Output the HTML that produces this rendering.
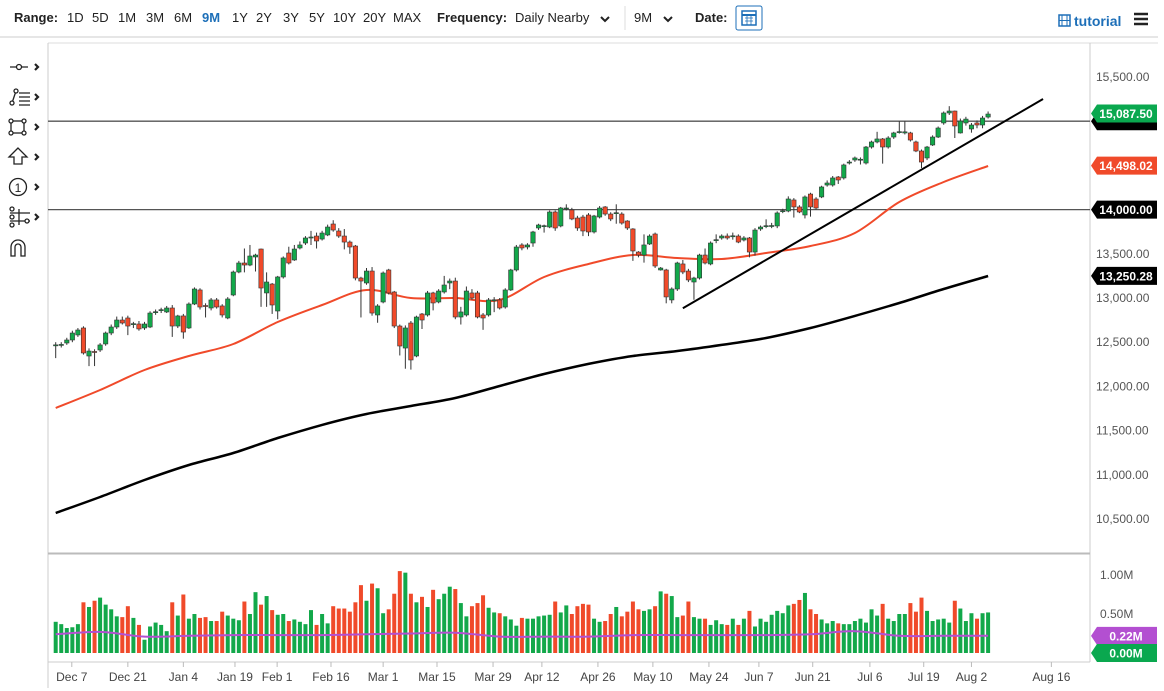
<!DOCTYPE html>
<html><head><meta charset="utf-8"><style>
body{margin:0;background:#fff;font-family:"Liberation Sans",sans-serif;}
svg{display:block}
</style></head><body>
<svg id="chart" width="1164" height="691" viewBox="0 0 1164 691" xmlns="http://www.w3.org/2000/svg" font-family="Liberation Sans, sans-serif">
<rect x="0" y="0" width="1164" height="691" fill="#fff"/>
<g font-size="13" fill="#222">
<text x="14" y="22" font-weight="bold">Range:</text>
<text x="67" y="22">1D</text>
<text x="92" y="22">5D</text>
<text x="118" y="22">1M</text>
<text x="146" y="22">3M</text>
<text x="174" y="22">6M</text>
<text x="202" y="22" font-weight="bold" fill="#1d6fb8">9M</text>
<text x="232" y="22">1Y</text>
<text x="256" y="22">2Y</text>
<text x="283" y="22">3Y</text>
<text x="309" y="22">5Y</text>
<text x="333" y="22">10Y</text>
<text x="363" y="22">20Y</text>
<text x="393" y="22">MAX</text>
<text x="437" y="22" font-weight="bold">Frequency:</text>
<text x="515" y="22">Daily Nearby</text>
<path d="M601 17 l4 4 l4 -4" stroke="#222" stroke-width="2" fill="none"/>
<line x1="625" y1="6" x2="625" y2="30" stroke="#ddd"/>
<text x="634" y="22">9M</text>
<path d="M664 17 l4 4 l4 -4" stroke="#222" stroke-width="2" fill="none"/>
<text x="695" y="22" font-weight="bold">Date:</text>
<g>
<rect x="736" y="6" width="26" height="24" fill="#fff" stroke="#1d6fb8" rx="2"/>
<rect x="742" y="11" width="14" height="14" fill="none" stroke="#1d6fb8" stroke-width="1.5"/>
<line x1="742" y1="15" x2="756" y2="15" stroke="#1d6fb8" stroke-width="2"/>
<path d="M745 18h8M745 21h8M747 16v9M751 16v9" stroke="#1d6fb8" stroke-width="0.8"/>
</g>
<g>
<rect x="1059" y="15" width="11" height="11" fill="none" stroke="#1d6fb8" stroke-width="1.5"/>
<path d="M1062 15v11M1067 15v11M1059 20.5h11" stroke="#1d6fb8"/>
<text x="1074" y="26" font-weight="bold" fill="#1d6fb8" font-size="14">tutorial</text>
</g>
<path d="M1134 14h14M1134 19h14M1134 24h14" stroke="#222" stroke-width="2.5"/>
</g>
<line x1="0" y1="37" x2="1158" y2="37" stroke="#ddd" stroke-width="1.5"/>
<line x1="48" y1="43" x2="1158" y2="43" stroke="#ddd"/>
<line x1="48" y1="43" x2="48" y2="688" stroke="#ccc"/>
<line x1="1090" y1="43" x2="1090" y2="662" stroke="#ccc"/>
<line x1="48" y1="553.5" x2="1090" y2="553.5" stroke="#bbb" stroke-width="2"/>
<line x1="48" y1="662" x2="1090" y2="662" stroke="#ccc"/>
<g stroke="#222" fill="none" stroke-width="1.3">
<g><path d="M10 67h18"/><circle cx="19" cy="67" r="2.5" fill="#fff"/></g>
<g><path d="M12 103l4-12M19 93h11M19 97h11M19 101h11M19 105h11"/><circle cx="12" cy="103" r="2" fill="#fff"/><circle cx="16" cy="91" r="2" fill="#fff"/></g>
<g><rect x="11" y="121" width="13" height="12"/><circle cx="11" cy="121" r="2" fill="#fff"/><circle cx="24" cy="121" r="2" fill="#fff"/><circle cx="11" cy="133" r="2" fill="#fff"/><circle cx="24" cy="133" r="2" fill="#fff"/></g>
<path d="M18 148l-9 9h5v7h8v-7h5z"/>
<g><circle cx="18" cy="187" r="8.5"/><text x="18" y="192" font-size="12" fill="#222" stroke="none" text-anchor="middle">1</text></g>
<g><path d="M10 213h20M10 221h20M19 209v16"/><circle cx="12" cy="209" r="2" fill="#fff"/><circle cx="12" cy="217" r="2" fill="#fff"/><circle cx="12" cy="225" r="2" fill="#fff"/><circle cx="27" cy="221" r="2" fill="#fff"/></g>
<path d="M11 256v-9a7 7 0 0 1 14 0v9h-4v-9a3 3 0 0 0 -6 0v9z"/>
<g stroke-width="2.2"><path d="M35 64l3 3l-3 3M35 94l3 3l-3 3M35 124l3 3l-3 3M35 154l3 3l-3 3M35 184l3 3l-3 3M35 214l3 3l-3 3"/></g>
</g>
<g id="grid"></g>
<g id="marks"></g>
<g id="axes"></g>
</svg>
<script>
const opens=[12460,12465,12491,12525,12582,12661,12344,12395,12412,12480,12604,12672,12751,12774,12700,12706,12661,12672,12838,12860,12842,12887,12683,12797,12661,12932,13091,12915,12887,12978,12910,12774,13034,13294,13396,13373,13464,13554,13057,13158,12853,13238,13509,13430,13566,13622,13685,13701,13667,13713,13837,13758,13701,13633,13588,13226,13170,13305,12808,12955,13317,13068,12683,12434,12717,12344,12819,12808,13057,12955,13068,13170,13192,12785,12808,13057,13057,12808,12808,12975,12978,12898,13091,13317,13600,13577,13622,13792,13812,13803,13973,13815,14007,13996,13905,13916,13939,13747,13916,14030,13950,13960,13950,13871,13781,13520,13486,13611,13724,13317,13317,12978,13102,13385,13305,13181,13226,13486,13385,13650,13679,13701,13698,13701,13656,13679,13520,13781,13812,13815,13815,13980,13984,14109,14030,13939,14176,14120,14143,14278,14278,14369,14358,14527,14561,14565,14527,14708,14765,14799,14708,14821,14875,14867,14867,14765,14663,14584,14731,14821,14980,15093,15115,14867,14980,14912,14980,14957,15047];
const closes=[12470,12475,12525,12604,12638,12378,12400,12385,12469,12604,12672,12751,12717,12683,12710,12650,12706,12830,12845,12868,12887,12683,12797,12615,12932,13102,12898,12905,12978,12898,12808,12989,13294,13396,13373,13475,13486,13113,13181,12921,13238,13453,13396,13554,13600,13679,13690,13645,13735,13803,13769,13701,13633,13577,13226,13192,13305,12830,12910,13283,13057,12683,12457,12661,12299,12785,12751,13057,12944,13079,13147,13192,12785,12842,13079,13000,12785,12774,12978,12980,12887,13091,13317,13577,13566,13600,13747,13826,13818,13973,13792,14018,14018,13894,13792,13758,13747,13928,14018,13950,13894,13965,13848,13792,13532,13486,13600,13701,13362,13339,13012,13102,13396,13294,13204,13226,13486,13396,13622,13660,13701,13679,13704,13633,13679,13520,13769,13803,13818,13820,13962,13988,14120,14030,13973,14143,14030,14018,14256,14301,14358,14335,14505,14538,14584,14570,14708,14765,14799,14708,14810,14867,14882,14880,14787,14663,14538,14708,14821,14923,15093,15115,14946,15002,15024,14957,14957,15036,15081];
const highs=[12500,12500,12550,12630,12660,12680,12430,12420,12490,12620,12700,12790,12790,12800,12730,12740,12730,12850,12870,12890,12910,12920,12810,12820,12950,13120,13110,12940,13000,13000,12930,13010,13310,13420,13560,13600,13500,13560,13290,13170,13250,13470,13580,13600,13640,13700,13760,13740,13760,13830,13880,13790,13780,13650,13600,13240,13340,13350,12930,13300,13330,13080,12700,12690,12740,12800,12830,13080,13070,13100,13250,13220,13230,12900,13130,13100,13080,12830,13000,13010,13000,13110,13330,13600,13620,13620,13760,13840,13830,13990,13990,14030,14060,14020,13930,13940,13960,13940,14040,14040,13970,14060,13970,13880,13790,13530,13720,13720,13740,13350,13330,13120,13410,13430,13330,13240,13500,13560,13640,13720,13720,13730,13740,13720,13700,13690,13790,13820,13890,13850,13980,14010,14150,14130,14050,14160,14190,14140,14270,14330,14380,14380,14520,14560,14600,14590,14720,14780,14880,14810,14830,14880,15000,15000,14880,14780,14680,14720,14840,14940,15110,15170,15120,15030,15050,14980,15010,15060,15110];
const lows=[12320,12440,12470,12500,12560,12360,12230,12230,12390,12460,12580,12650,12700,12580,12660,12630,12640,12660,12810,12830,12830,12560,12660,12540,12650,12920,12870,12780,12860,12880,12780,12760,13020,13280,13290,13360,13300,12900,12900,12820,12760,13220,13380,13420,13550,13600,13600,13560,13650,13700,13750,13680,13550,13500,13200,12780,13150,12800,12720,12940,13040,12660,12350,12200,12190,12330,12650,12790,12860,12940,13050,13100,12760,12700,12790,12980,12770,12640,12790,12840,12870,12880,13080,13300,13540,13550,13580,13770,13740,13790,13760,13800,13990,13880,13760,13700,13700,13730,13900,13930,13870,13840,13830,13770,13420,13460,13400,13600,13340,13310,12940,12940,13080,13270,13180,12980,13210,13380,13370,13620,13660,13660,13660,13620,13640,13460,13480,13760,13790,13790,13790,13960,13970,13910,13960,13900,13920,14000,14130,14260,14260,14290,14340,14510,14540,14510,14510,14690,14750,14520,14690,14800,14860,14850,14770,14650,14470,14560,14720,14810,14960,15070,14810,14860,14950,14870,14920,14920,15030];
const volumes=[.40,.37,.32,.33,.37,.65,.59,.67,.71,.62,.56,.47,.46,.60,.45,.36,.17,.34,.39,.36,.28,.65,.48,.75,.44,.50,.45,.46,.41,.41,.53,.48,.44,.42,.66,.50,.78,.62,.73,.55,.49,.50,.41,.43,.40,.37,.55,.36,.50,.38,.60,.57,.57,.53,.65,.87,.67,.89,.83,.51,.56,.76,1.05,1.03,.76,.65,.72,.59,.81,.69,.76,.85,.82,.64,.47,.60,.64,.74,.58,.52,.51,.47,.43,.35,.45,.44,.44,.47,.48,.49,.66,.52,.61,.50,.60,.63,.62,.44,.40,.41,.50,.59,.47,.53,.66,.56,.54,.56,.60,.79,.76,.73,.46,.48,.66,.46,.44,.44,.36,.42,.37,.36,.44,.36,.44,.54,.34,.44,.40,.49,.54,.51,.61,.63,.68,.77,.56,.50,.43,.38,.41,.38,.37,.37,.41,.44,.39,.56,.48,.63,.44,.41,.50,.50,.64,.53,.71,.54,.41,.43,.44,.39,.67,.57,.41,.51,.44,.51,.52];
const maStep=8;
const ma50=[11756,11959,12185,12344,12480,12729,12921,13091,13000,13000,12978,13238,13385,13486,13453,13441,13509,13588,13735,14086,14312,14493];
const ma200=[10568,10749,10941,11111,11247,11416,11564,11688,11778,11869,12005,12140,12254,12344,12400,12469,12548,12661,12797,12944,13102,13249];
const volMa=[.24,.27,.21,.22,.23,.23,.23,.24,.25,.26,.21,.21,.21,.23,.23,.23,.23,.24,.28,.22,.22,.22];
const priceTicks=[15500,13500,13000,12500,12000,11500,11000,10500];
const volTicks=[1.0,0.5];
const dateLabels=["Dec 7","Dec 21","Jan 4","Jan 19","Feb 1","Feb 16","Mar 1","Mar 15","Mar 29","Apr 12","Apr 26","May 10","May 24","Jun 7","Jun 21","Jul 6","Jul 19","Aug 2","Aug 16"];
const dateIdx=[2.9,13,23,32.3,39.9,49.6,59,68.7,78.8,87.6,97.7,107.6,117.7,126.7,136.4,146.7,156.4,165,179.4];
const hLevels=[15000,14000];
const trend=[[113,12884],[177.9,15251]];
const tags=[{v:15000,t:"",c:"#000"},{v:15087.5,t:"15,087.50",c:"#0aa84f"},{v:14498.02,t:"14,498.02",c:"#f04a2a"},{v:14000,t:"14,000.00",c:"#000"},{v:13250.28,t:"13,250.28",c:"#000"}];
const volTags=[{v:0.22,t:"0.22M",c:"#b34fd1"},{v:0,t:"0.00M",c:"#0aa84f"}];

const NS="http://www.w3.org/2000/svg";
function X(i){return 55.7+i*5.55;}
function Y(p){return (16371-p)/11.312;}
function VY(v){return 653-v*78;}
function mk(tag,attrs,parent){const e=document.createElementNS(NS,tag);for(const k in attrs)e.setAttribute(k,attrs[k]);parent.appendChild(e);return e;}
const grid=document.getElementById('grid'),marks=document.getElementById('marks'),axes=document.getElementById('axes');

hLevels.forEach(v=>{const l=mk('line',{x1:48,x2:1090,y1:Y(v),y2:Y(v),stroke:'#555','stroke-width':1.3},grid);

});

for(let i=0;i<volumes.length;i++){
 const up=i<closes.length?closes[i]>=opens[i]:true;
 const r=mk('rect',{x:X(i)-2,y:VY(volumes[i]),width:4,height:volumes[i]*78,fill:up?'#12a84a':'#f04a2a'},marks);
 
 
}
function line(arr,fx,fy,attrs,name){
 const pts=arr.map((v,k)=>[fx(k),fy(v)]);
 let d='M'+pts[0][0].toFixed(1)+' '+pts[0][1].toFixed(1);
 for(let k=0;k<pts.length-1;k++){
  const p0=pts[Math.max(0,k-1)],p1=pts[k],p2=pts[k+1],p3=pts[Math.min(pts.length-1,k+2)];
  const c1=[p1[0]+(p2[0]-p0[0])/6,p1[1]+(p2[1]-p0[1])/6],c2=[p2[0]-(p3[0]-p1[0])/6,p2[1]-(p3[1]-p1[1])/6];
  d+=`C${c1[0].toFixed(1)} ${c1[1].toFixed(1)} ${c2[0].toFixed(1)} ${c2[1].toFixed(1)} ${p2[0].toFixed(1)} ${p2[1].toFixed(1)}`;
 }
 const p=mk('path',Object.assign({d:d,fill:'none','stroke-linejoin':'round'},attrs),marks);
 
 return p;}
line(volMa,k=>X(k*maStep),VY,{stroke:'#b34fd1','stroke-width':2},'volume-moving-average');
line(ma200,k=>X(k*maStep),Y,{stroke:'#000','stroke-width':2.5},'ma-200-line');
line(ma50,k=>X(k*maStep),Y,{stroke:'#f04a2a','stroke-width':2},'ma-50-line');

for(let i=0;i<closes.length;i++){
 const up=closes[i]>=opens[i];const x=X(i);
 const w=mk('line',{x1:x,x2:x,y1:Y(highs[i]),y2:Y(lows[i]),stroke:'#333','stroke-width':1},marks);
 
 
 const t=Y(Math.max(opens[i],closes[i])),b=Y(Math.min(opens[i],closes[i]));
 const r=mk('rect',{x:x-2.2,y:t,width:4.4,height:Math.max(1,b-t),fill:up?'#12a84a':'#f04a2a',stroke:'#333','stroke-width':0.6},marks);
 
 
}
const tl=mk('line',{x1:X(trend[0][0]),y1:Y(trend[0][1]),x2:X(trend[1][0]),y2:Y(trend[1][1]),stroke:'#000','stroke-width':2},marks);



priceTicks.forEach(v=>{const t=mk('text',{x:1096,y:Y(v)+4,'font-size':12,fill:'#555'},axes);t.textContent=v.toLocaleString('en-US',{minimumFractionDigits:2});

});
volTicks.forEach(v=>{const t=mk('text',{x:1100,y:VY(v)+4,'font-size':12,fill:'#555'},axes);t.textContent=v.toFixed(2)+'M';

});
function tag(y,txt,c,name){const g=mk('g',{},axes);


mk('path',{d:`M1091 ${y} l6 -9 h60 v18 h-60 z`,fill:c},g);
const t=mk('text',{x:1126,y:y+4.5,'font-size':12,'font-weight':'bold',fill:'#fff','text-anchor':'middle'},g);t.textContent=txt;}
tags.forEach(o=>tag(Y(o.v),o.t,o.c,'price-tag'));
volTags.forEach(o=>tag(VY(o.v),o.t,o.c,'volume-tag'));
dateLabels.forEach((s,k)=>{const x=X(dateIdx[k]);
const tk=mk('line',{x1:x,x2:x,y1:662,y2:667,stroke:'#bbb'},axes);


const t=mk('text',{x:x,y:681,'font-size':12,fill:'#444','text-anchor':'middle'},axes);t.textContent=s;

});
</script>
</body></html>
